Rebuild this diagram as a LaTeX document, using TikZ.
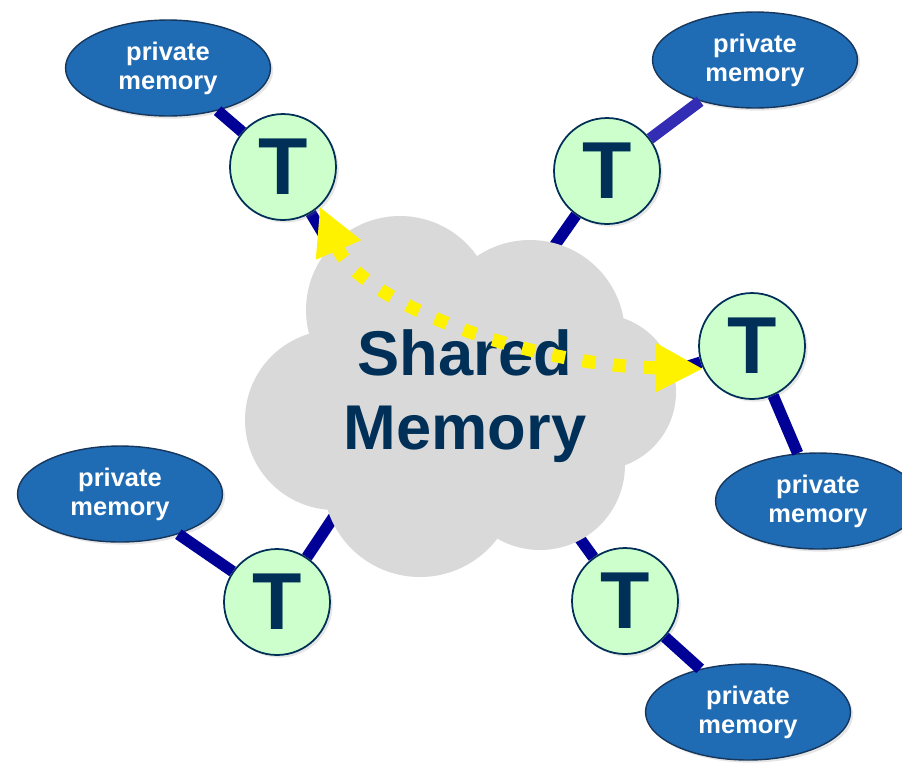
\documentclass[tikz,border=0pt]{standalone}
\usepackage{fontspec}
\setmainfont{Liberation Sans}
\usetikzlibrary{shapes.geometric,arrows.meta,backgrounds,shadows}
\definecolor{memblue}{RGB}{31,108,181}
\definecolor{memedge}{RGB}{22,54,92}
\definecolor{thrgreen}{RGB}{204,255,204}
\definecolor{thrnavy}{RGB}{0,48,87}
\definecolor{linknavy}{RGB}{0,0,150}
\definecolor{linkblue}{RGB}{50,45,180}
\definecolor{cloudgray}{RGB}{217,217,217}
\tikzset{
  thread/.style={circle,draw=thrnavy,line width=1pt,fill=thrgreen,
    minimum size=2.12cm,inner sep=0pt,text=thrnavy,
    font=\fontsize{46}{46}\selectfont\bfseries,
    drop shadow={opacity=0.2,shadow xshift=1.5pt,shadow yshift=-1.5pt}},
  privmem/.style={ellipse,draw=memedge,line width=0.8pt,fill=memblue,
    minimum width=4.1cm,minimum height=1.92cm,inner sep=0pt,text=white,
    align=center,font=\fontsize{14.5}{16.5}\selectfont\bfseries,
    drop shadow={opacity=0.2,shadow xshift=1.5pt,shadow yshift=-1.5pt}},
  link/.style={draw=linknavy,line width=6.5pt},
  sharedtxt/.style={text=thrnavy,align=center,
    font=\fontsize{36}{42.5}\selectfont\bfseries},
  access/.style={draw=yellow,line width=7.5pt,dash pattern=on 7.5pt off 10pt,
    {Triangle[length=27pt,width=26pt]}-{Triangle[length=27pt,width=26pt]}}
}

\begin{document}
\begin{tikzpicture}[x=0.02cm,y=-0.02cm]
\path[use as bounding box] (0,0) rectangle (902,762);
\clip (0,0) rectangle (902,762);

\node[thread] (t1) at (283,167) {T};
\node[thread] (t2) at (607,171) {T};
\node[thread] (t3) at (752,346) {T};
\node[thread] (t4) at (277,602) {T};
\node[thread] (t5) at (625,601) {T};

\node[privmem] (p1) at (168,68) {private\\memory};
\node[privmem] (p2) at (755,60) {private\\memory};
\node[privmem] (p3) at (818,501) {private\\memory};
\node[privmem] (p4) at (120,494) {private\\memory};
\node[privmem] (p5) at (748,712) {private\\memory};

\coordinate (c1) at (330,245);
\coordinate (c2) at (548,255);
\coordinate (c3) at (660,375);
\coordinate (c4) at (345,500);
\coordinate (c5) at (570,525);

\begin{scope}[on background layer]
\draw[link] (t1) -- (c1);
\draw[link] (t2) -- (c2);
\draw[link] (t3) -- (c3);
\draw[link] (t4) -- (c4);
\draw[link] (t5) -- (c5);
% cloud
\fill[cloudgray] (400,310) circle (94) (530,335) circle (95)
  (598,392) circle (78) (540,465) circle (85) (420,480) circle (97)
  (335,420) circle (90) (465,400) circle (130);
\end{scope}

\draw[link] (t1) -- (p1);
\draw[link,draw=linkblue] (t2) -- (p2);
\draw[link] (t3) -- (p3);
\draw[link] (t4) -- (p4);
\draw[link] (t5) -- (p5);

\node[sharedtxt] (shm) at (465,396) {Shared\\Memory};

\draw[access] (t1.313) .. controls (360,300) and (520,365) .. (t3.205);
\end{tikzpicture}
\end{document}
